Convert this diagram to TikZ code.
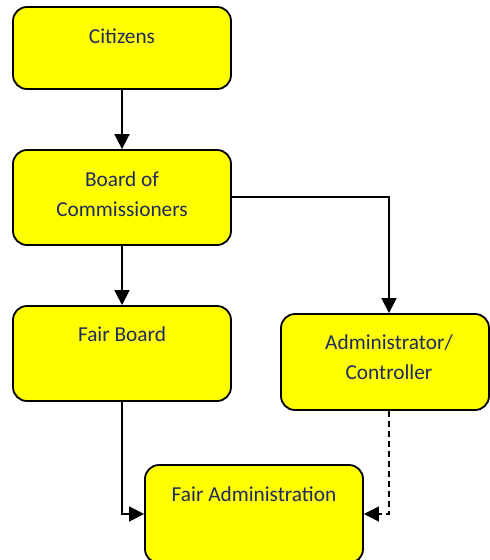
\documentclass[tikz,border=0pt]{standalone}
\usepackage{fontspec}
\setmainfont{Carlito}
\usetikzlibrary{arrows.meta}
\definecolor{txtnavy}{HTML}{1F2B5E}
\definecolor{boxyellow}{HTML}{FFFF00}
\tikzset{
  box/.style={draw=black, line width=1.8pt, fill=boxyellow, rounded corners=14pt, inner sep=0pt},
  lbl/.style={text=txtnavy, font=\fontsize{21.3}{30}\selectfont, align=center, inner sep=0pt, anchor=center},
  conn/.style={line width=1.6pt, -{Triangle[length=15pt,width=15pt]}},
  dconn/.style={conn, dash pattern=on 6pt off 4pt}
}
\begin{document}
\begin{tikzpicture}[x=1pt,y=-1pt]
\useasboundingbox (0,0) rectangle (490,560);
\clip (0,0) rectangle (490,560);
\node[box, minimum width=218pt, minimum height=82pt] (cit) at (122,48) {};
\node[lbl] at (122,36) {Citizens};
\node[box, minimum width=218pt, minimum height=95pt] (board) at (122,197.5) {};
\node[lbl] at (122,194) {Board of\\Commissioners};
\node[box, minimum width=218pt, minimum height=95pt] (fair) at (122,353.5) {};
\node[lbl] at (122,334) {Fair Board};
\node[box, minimum width=208pt, minimum height=96pt] (adm) at (385,362) {};
\node[lbl] at (389,357.5) {Administrator/\\Controller};
\node[box, minimum width=218pt, minimum height=98pt] (fadm) at (254,514) {};
\node[lbl] at (254,494) {Fair Administration};
\coordinate (bend1) at (389,197);
\draw[conn] (cit.south) -- (board.north);
\draw[conn] (board.south) -- (fair.north);
\draw[conn] (board.east |- bend1) -- (bend1) -- (bend1 |- adm.north);
\draw[conn] (fair.south) |- (fadm.west);
\draw[dconn] (adm.south -| bend1) |- (fadm.east);
\end{tikzpicture}
\end{document}
